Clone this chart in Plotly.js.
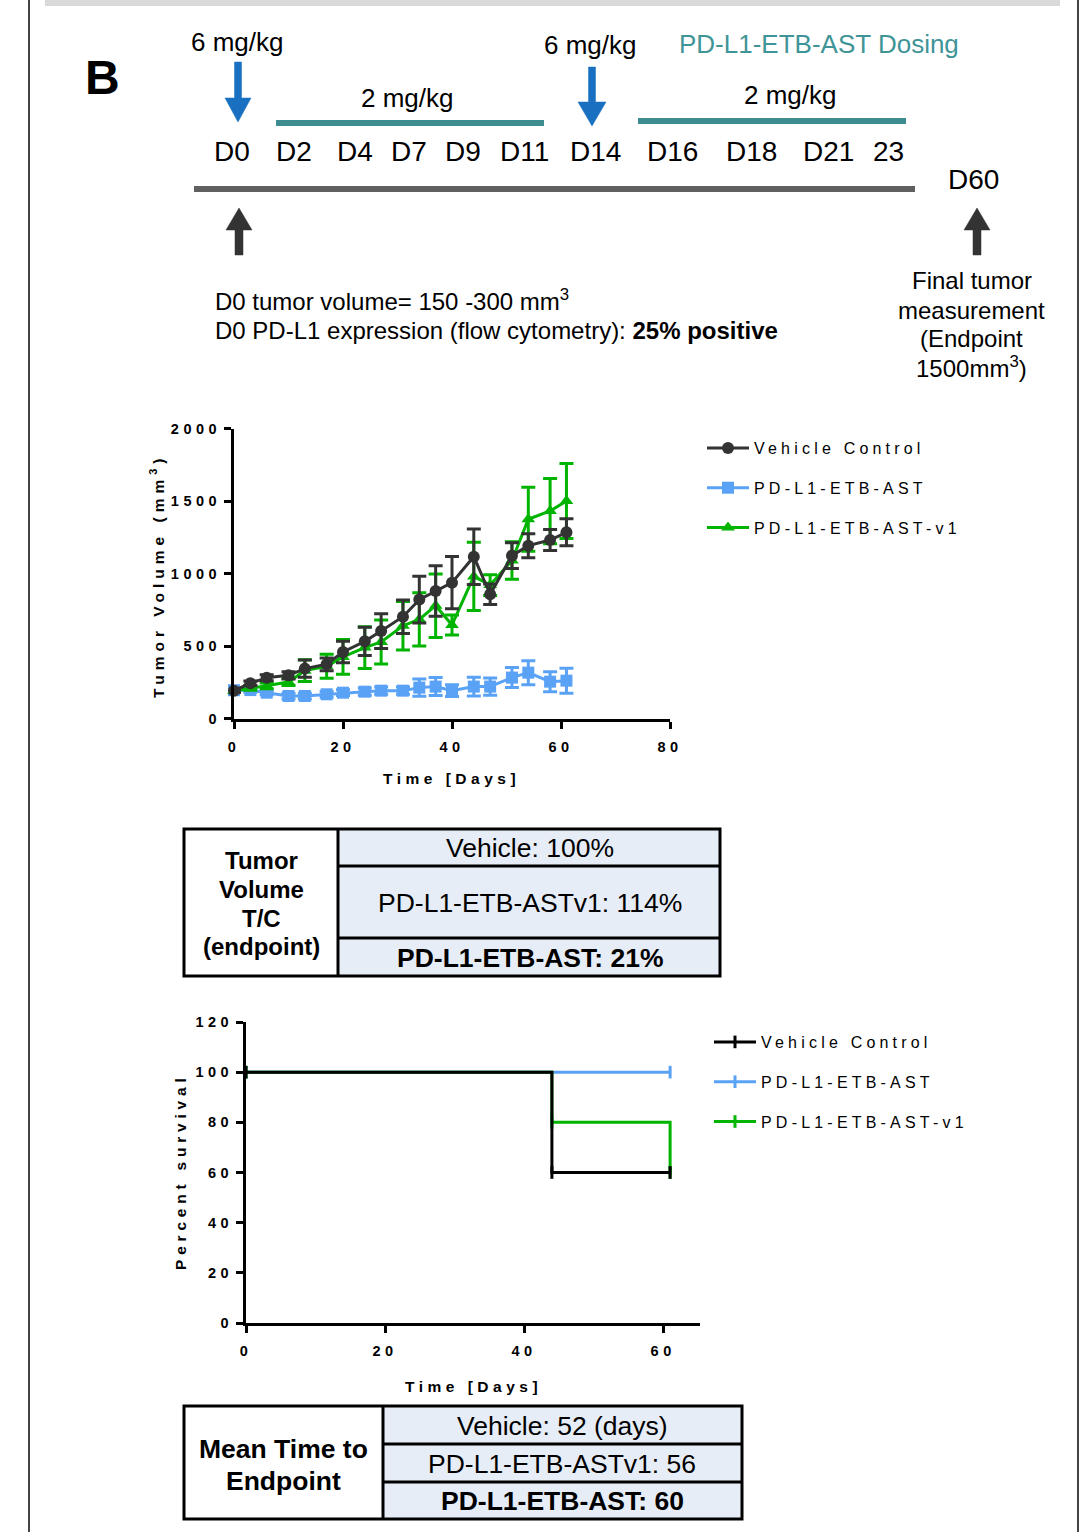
<!DOCTYPE html>
<html><head><meta charset="utf-8">
<script src="https://cdn.plot.ly/plotly-3.0.1.min.js"></script>
<style>
body{margin:0;background:#fff}
</style></head><body><div id="chart" style="width:1092px;height:1532px"></div>
<script>
// ---------- data ----------
const days = [0,3,6,10,13,17,20,24,27,31,34,37,40,44,47,51,54,58,61];
const vehicleMean = [192,243,281,298,344,374,459,532,603,702,820,879,937,1116,857,1123,1192,1231,1284];
const vehicleSem  = [12,15,20,25,60,44,74,97,120,115,161,174,180,191,70,89,83,72,93];
const astMean = [195,196,178,155,155,167,178,185,192,192,213,220,192,220,220,282,316,254,261];
const astSem  = [15,15,15,20,20,20,20,25,25,25,60,62,40,64,59,69,83,69,86];
const v1Mean = [190,210,225,252,330,360,425,489,528,640,684,778,645,980,920,1090,1374,1431,1500];
const v1Sem  = [10,15,20,25,75,83,120,144,152,167,184,219,69,236,71,129,220,225,259];

const survVehicleDays = [0,44,61];
const survVehicle = [100,60,60];
const survV1Days = [0,44,61];
const survV1 = [100,80,60];
const survAstDays = [0,61];
const survAst = [100,100];

const seriesNames = ['Vehicle Control','PD-L1-ETB-AST','PD-L1-ETB-AST-v1'];
const tumorXTicks = [0,20,40,60,80];
const tumorYTicks = [0,500,1000,1500,2000];
const survXTicks = [0,20,40,60];
const survYTicks = [0,20,40,60,80,100,120];

const doseDays = ['D0','D2','D4','D7','D9','D11','D14','D16','D18','D21','23'];
const tcLabel = ['Tumor','Volume','T/C','(endpoint)'];
const tcRows = ['Vehicle: 100%','PD-L1-ETB-ASTv1: 114%','<b>PD-L1-ETB-AST: 21%</b>'];
const mtLabel = ['Mean Time to','Endpoint'];
const mtRows = ['Vehicle: 52 (days)','PD-L1-ETB-ASTv1: 56','<b>PD-L1-ETB-AST: 60</b>'];

// ---------- layout helpers ----------
const W=1092,H=1532;
const X=v=>v/W, Y=v=>1-v/H;
const FONT='Arial, "Liberation Sans", sans-serif';
const C_VEH='#333333', C_AST='#5aa2f5', C_V1='#00b400';
const spaced=(s,ls)=>'<span style="letter-spacing:'+ls+'px">'+s+'</span>';

function rect(x0,y0,x1,y1,fill,lc,lw,layer){return {type:'rect',xref:'paper',yref:'paper',x0:X(x0),x1:X(x1),y0:Y(y0),y1:Y(y1),fillcolor:fill,line:{color:lc||'rgba(0,0,0,0)',width:lw||0},layer:layer||'below'};}
function seg(x0,y0,x1,y1,color,w){return {type:'line',xref:'paper',yref:'paper',x0:X(x0),x1:X(x1),y0:Y(y0),y1:Y(y1),line:{color:color,width:w},layer:'above'};}
function poly(pts,color){return {type:'path',xref:'paper',yref:'paper',path:'M'+pts.map(p=>X(p[0])+','+Y(p[1])).join(' L')+' Z',fillcolor:color,line:{color:color,width:0.5},layer:'above'};}
function downArrow(cx,yt,yb,hh,hw,sw,c){return poly([[cx-sw/2,yt],[cx+sw/2,yt],[cx+sw/2,yb-hh],[cx+hw/2,yb-hh],[cx,yb],[cx-hw/2,yb-hh],[cx-sw/2,yb-hh]],c);}
function upArrow(cx,yt,yb,hh,hw,sw,c){return poly([[cx-sw/2,yb],[cx+sw/2,yb],[cx+sw/2,yt+hh],[cx+hw/2,yt+hh],[cx,yt],[cx-hw/2,yt+hh],[cx-sw/2,yt+hh]],c);}
function txt(text,x,y,size,opts){opts=opts||{};return {text:text,xref:'paper',yref:'paper',x:X(x),y:Y(y),showarrow:false,xanchor:opts.xa||'center',yanchor:'middle',textangle:opts.angle||0,font:{family:FONT,size:size,color:opts.color||'#000',weight:opts.bold?'bold':'normal'}};}

// ---------- traces ----------
function tumorTrace(y,err,name,color,symbol,rank){
  return {x:days,y:y,name:spaced(name,4.2),type:'scatter',mode:'lines+markers',xaxis:'x',yaxis:'y',legend:'legend',legendrank:rank,legendgroup:'g'+rank,
    line:{color:color,width:3},marker:{color:color,size:12,symbol:symbol},cliponaxis:false,
    error_y:{type:'data',array:err,visible:true,color:color,thickness:3,width:7}};
}
function survTrace(x,y,name,color,rank){
  return {x:x,y:y,name:spaced(name,4.2),type:'scatter',mode:'lines+markers',xaxis:'x2',yaxis:'y2',legend:'legend2',legendrank:rank,legendgroup:'s'+rank,
    line:{color:color,width:3,shape:'hv'},marker:{symbol:'line-ns',size:9,color:color,line:{color:color,width:3}},cliponaxis:false};
}
const traces=[
  tumorTrace(astMean,astSem,seriesNames[1],C_AST,'square',2),
  tumorTrace(v1Mean,v1Sem,seriesNames[2],C_V1,'triangle-up',3),
  tumorTrace(vehicleMean,vehicleSem,seriesNames[0],C_VEH,'circle',1),
  survTrace(survAstDays,survAst,seriesNames[1],C_AST,2),
  survTrace(survV1Days,survV1,seriesNames[2],C_V1,3),
  survTrace(survVehicleDays,survVehicle,seriesNames[0],'#000000',1)
];

// ---------- axes ----------
function axis(domain,range,ticks,extra){
  return Object.assign({domain:domain,range:range,tickvals:ticks,ticktext:ticks.map(t=>spaced(String(t),4.5)),showgrid:false,zeroline:false,
    showline:true,linecolor:'#000',linewidth:3,ticks:'outside',ticklen:7,tickwidth:3,tickcolor:'#000',
    tickfont:{family:FONT,size:14.5,color:'#000',weight:'bold'},fixedrange:true},extra||{});
}

// ---------- shapes ----------
const shapes=[
  rect(45,0,1060,6,'#d9d9d9'),
  seg(29,0,29,1532,'#444',2),
  seg(1078,0,1078,1532,'#444',2),
  downArrow(238,62,122,24,26,7,'#1a70c0'),
  downArrow(592,67,126,24,28,7,'#1a70c0'),
  rect(276,120,544,126,'#3d8c8f'),
  rect(638,118,906,124,'#3d8c8f'),
  rect(194,186,915,192,'#606060'),
  upArrow(239,208,255,22,26,8,'#333333'),
  upArrow(977,208,255,22,26,8,'#333333'),
  // table 1
  rect(338,829,720,976,'#e7edf6'),
  rect(184,829,720,976,'rgba(0,0,0,0)','#000',3,'above'),
  seg(338,829,338,976,'#000',3),
  seg(338,866,720,866,'#000',3),
  seg(338,938,720,938,'#000',3),
  // table 2
  rect(383,1406,742,1519,'#e7edf6'),
  rect(184,1406,742,1519,'rgba(0,0,0,0)','#000',3,'above'),
  seg(383,1406,383,1519,'#000',3),
  seg(383,1444,742,1444,'#000',3),
  seg(383,1482,742,1482,'#000',3)
];

// ---------- annotations ----------
const dayLabelX=[232,294,355,409,463,524,595,672,751,828,888];
const ann=[
  txt('<b>B</b>',102,78,48),
  txt('6 mg/kg',237,42,26),
  txt('2 mg/kg',407,98,26),
  txt('6 mg/kg',590,45,26),
  txt('PD-L1-ETB-AST Dosing',819,44,26,{color:'#3f9497'}),
  txt('2 mg/kg',790,95,26),
  txt('D60',973,179,28),
  txt('D0 tumor volume= 150 -300 mm<sup>3</sup>',213,300,24,{xa:'left'}),
  txt('D0 PD-L1 expression (flow cytometry): <b>25% positive</b>',213,330,24,{xa:'left'}),
  txt(spaced('Tumor Volume (mm<sup>3</sup>)',5),157,576,15.5,{angle:-90,bold:true}),
  txt(spaced('Time [Days]',4.5),452,779,15.5,{bold:true}),
  txt(spaced('Percent survival',4.8),180,1172,15.5,{angle:-90,bold:true}),
  txt(spaced('Time [Days]',4.5),473,1386,15.5,{bold:true})
];
doseDays.forEach((d,i)=>ann.push(txt(d,dayLabelX[i],151,28)));
const finalLines=['Final tumor','measurement','(Endpoint','1500mm<sup>3</sup>)'];
const finalY=[281,310,339,367];
finalLines.forEach((t,i)=>ann.push(txt(t,972,finalY[i],24)));
const tcLabelY=[861,890,918,947];
tcLabel.forEach((t,i)=>ann.push(txt(t,261,tcLabelY[i],24,{bold:true})));
const tcRowY=[848,903,958];
tcRows.forEach((t,i)=>ann.push(txt(t,530,tcRowY[i],26.5)));
const mtLabelY=[1449,1481];
mtLabel.forEach((t,i)=>ann.push(txt(t,283,mtLabelY[i],26.5,{bold:true})));
const mtRowY=[1426,1464,1501];
mtRows.forEach((t,i)=>ann.push(txt(t,562,mtRowY[i],26.5)));

const legendStyle=(x,y)=>({x:X(x),y:Y(y),xanchor:'left',yanchor:'top',bgcolor:'rgba(0,0,0,0)',borderwidth:0,
  font:{family:FONT,size:16,color:'#000'},tracegroupgap:16,itemwidth:42,traceorder:'grouped',itemclick:false,itemdoubleclick:false});

const layout={
  width:W,height:H,margin:{l:0,r:0,t:0,b:0},paper_bgcolor:'#fff',plot_bgcolor:'rgba(0,0,0,0)',
  font:{family:FONT},showlegend:true,
  xaxis:axis([X(234),X(670)],[0,80],tumorXTicks,{anchor:'y',ticklabelstandoff:6}),
  yaxis:axis([Y(718.5),Y(428.5)],[0,2000],tumorYTicks,{anchor:'x'}),
  xaxis2:axis([X(246),X(700)],[0,65.3],survXTicks,{anchor:'y2',ticklabelstandoff:6}),
  yaxis2:axis([Y(1323),Y(1022)],[0,120],survYTicks,{anchor:'x2'}),
  legend:legendStyle(702,431),
  legend2:legendStyle(709,1025),
  shapes:shapes,annotations:ann
};
Plotly.newPlot('chart',traces,layout,{displayModeBar:false,staticPlot:true});
</script></body></html>
